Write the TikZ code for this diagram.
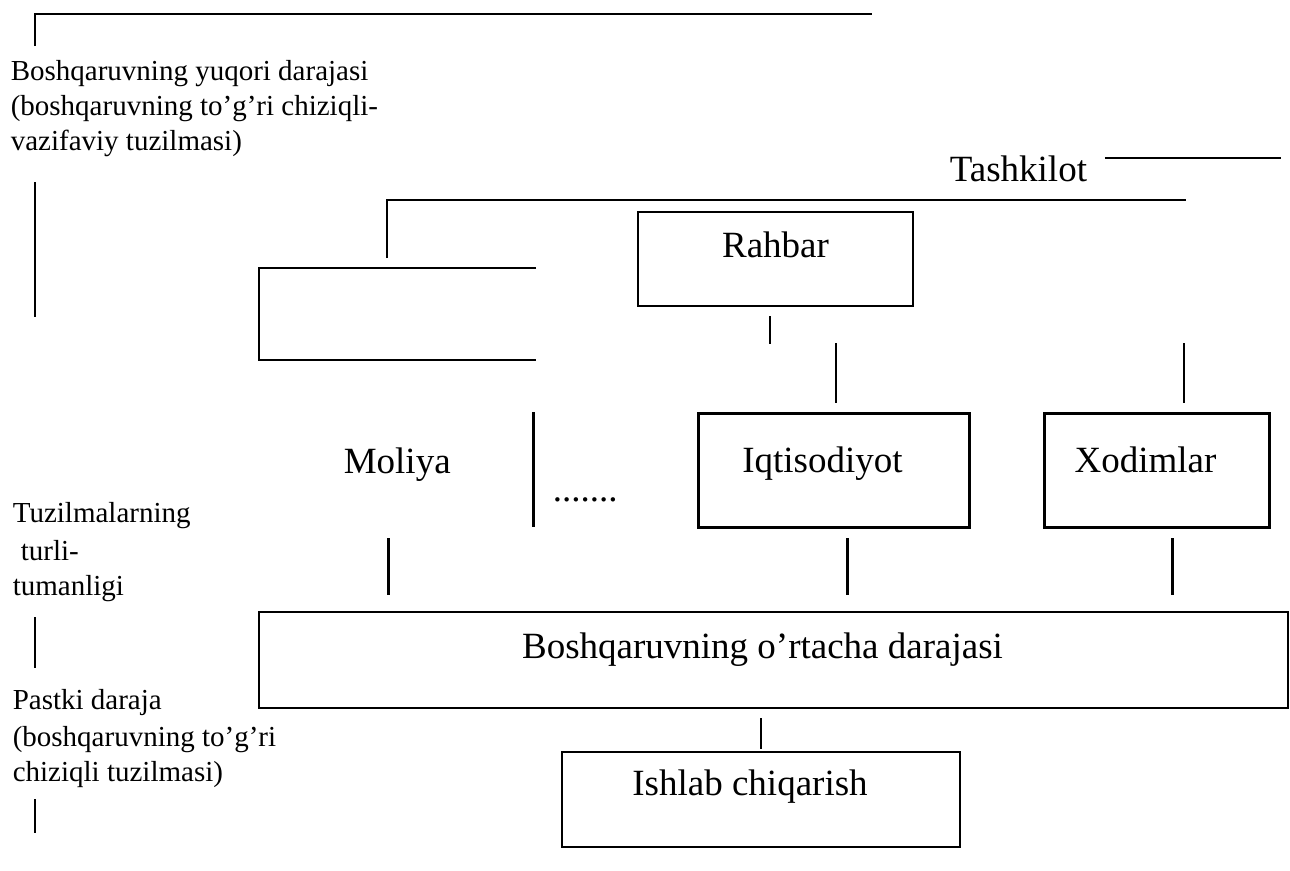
\documentclass[tikz,border=0pt]{standalone}
\usepackage{fontspec}
\setmainfont{Liberation Serif}
\tikzset{
    Box/.style = {draw,line width=1.6pt,inner sep=0pt,outer sep=0pt,anchor=north west,
                  font=\fontsize{37}{42}\selectfont,text height=26pt},
    ThickBox/.style = {Box,line width=3pt},
    Left/.style = {execute at end node=\hspace*{22pt}},
    Side/.style = {inner sep=0pt,anchor=base west,font=\fontsize{29}{35}\selectfont},
    Big/.style = {inner sep=0pt,anchor=base west,font=\fontsize{37}{42}\selectfont}
}
\begin{document}
\begin{tikzpicture}[x=1pt,y=-1pt,line width=1.6pt]
        \useasboundingbox (0,0) rectangle (1290,870);
        % boxes
        \node[Box,minimum width=275pt,minimum height=94pt,text depth=30pt] (R) at (638,212) {Rahbar};
        \node[ThickBox,Left,minimum width=271pt,minimum height=114pt,text depth=22pt] (Iq) at (698,413) {Iqtisodiyot};
        \node[ThickBox,Left,minimum width=225pt,minimum height=114pt,text depth=22pt] (Xo) at (1044,413) {Xodimlar};
        \node[Box,Left,line width=2pt,minimum width=1029pt,minimum height=96pt,text depth=30pt] (Mid) at (259,612) {Boshqaruvning o’rtacha darajasi};
        \node[Box,Left,line width=2pt,minimum width=398pt,minimum height=95pt,text depth=35pt] (Ish) at (562,752) {Ishlab chiqarish};
        % free texts
        \node[Big] (T) at (949,181) {Tashkilot};
        \node[Big] (Mo) at (343,473) {Moliya};
        \node[Big] (Dots) at (552,501) {.......};
        \node[Side] (U1) at (10,80) {Boshqaruvning yuqori darajasi};
        \node[Side] (U2) at (10,115) {(boshqaruvning to’g’ri chiziqli-};
        \node[Side] (U3) at (10,150) {vazifaviy tuzilmasi)};
        \node[Side] (V1) at (12,522) {Tuzilmalarning};
        \node[Side] (V2) at (20,560) {turli-};
        \node[Side] (V3) at (12,595) {tumanligi};
        \node[Side] (P1) at (12,709) {Pastki daraja};
        \node[Side] (P2) at (12,746) {(boshqaruvning to’g’ri};
        \node[Side] (P3) at (12,781) {chiziqli tuzilmasi)};
        % lines
        \draw (35,46) -- (35,14) -- (872,14);
        \draw (387,258) -- (387,200) -- (1186,200);
        \draw (536,268) -- (259,268) -- (259,360) -- (536,360);
        \draw ([xshift=17pt,yshift=23pt]T.base east) -- ++(176,0);
        \foreach \Y/\Z in {182/317,617/668,799/833}
            {\draw (35,\Y) -- (35,\Z);}
        \draw (770,316) -- (770,344);
        \foreach \X in {836,1184}
            {\draw (\X,343) -- (\X,403);}
        \foreach \X in {388,847,1172}
            {\draw[line width=3pt] (\X,538) -- (\X,595);}
        \draw[line width=3pt] (533,412) -- (533,527);
        \draw ([yshift=-10pt]Mid.south -| Ish.north) -- ([yshift=3pt]Ish.north);
\end{tikzpicture}
\end{document}
